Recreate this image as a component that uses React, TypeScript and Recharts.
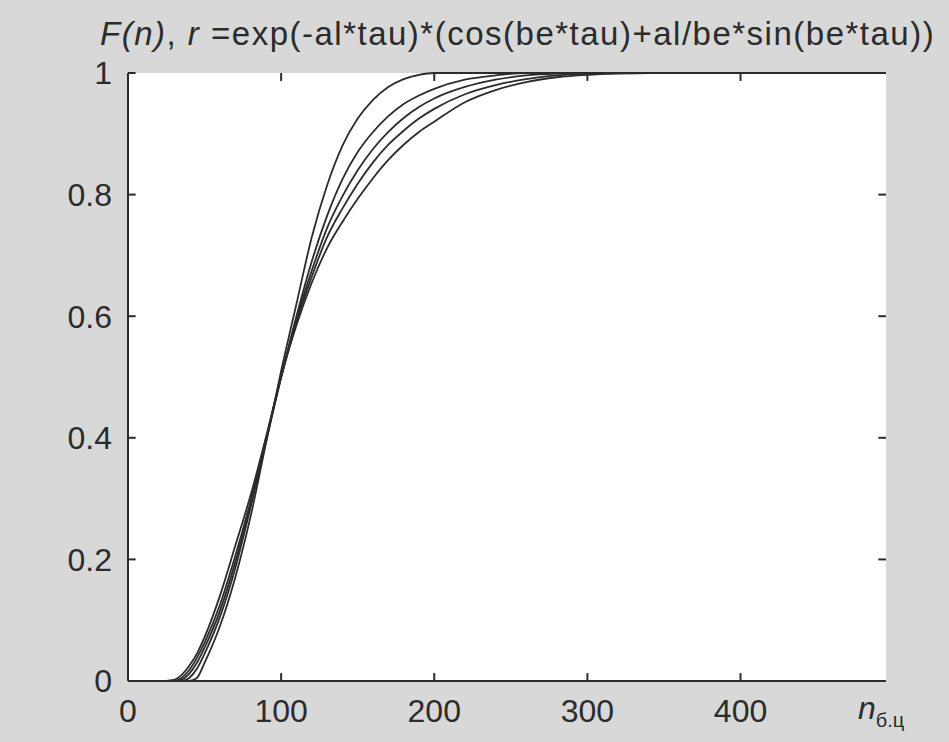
import { LineChart, Line, XAxis, YAxis, ReferenceLine } from 'recharts'

// n values shared by all curves
const nValues = [0, 20, 30, 35, 40, 45, 50, 60, 70, 80, 90, 100, 110, 120, 130, 140, 150, 160, 170, 180, 190, 200, 220, 240, 260, 280, 300, 320, 340, 400, 495]

// F(n) curves (steepest first)
const curveS = [0, 0, 0, 0, 0, 0.005, 0.03, 0.09, 0.17, 0.27, 0.39, 0.51, 0.62, 0.73, 0.815, 0.88, 0.925, 0.956, 0.977, 0.99, 0.997, 1, 1, 1, 1, 1, 1, 1, 1, 1, 1]
const curveB1 = [0, 0, 0, 0, 0.005, 0.02, 0.045, 0.105, 0.185, 0.285, 0.392, 0.5, 0.6, 0.69, 0.765, 0.825, 0.87, 0.903, 0.929, 0.949, 0.963, 0.974, 0.989, 0.996, 1, 1, 1, 1, 1, 1, 1]
const curveB2 = [0, 0, 0, 0.002, 0.012, 0.03, 0.055, 0.115, 0.195, 0.29, 0.395, 0.5, 0.595, 0.675, 0.745, 0.797, 0.84, 0.875, 0.903, 0.926, 0.944, 0.958, 0.977, 0.989, 0.996, 0.999, 1, 1, 1, 1, 1]
const curveB3 = [0, 0, 0, 0.005, 0.018, 0.038, 0.063, 0.125, 0.205, 0.295, 0.398, 0.5, 0.59, 0.665, 0.73, 0.777, 0.818, 0.853, 0.882, 0.905, 0.925, 0.941, 0.965, 0.98, 0.99, 0.996, 0.999, 1, 1, 1, 1]
const curveB4 = [0, 0, 0.002, 0.01, 0.025, 0.045, 0.072, 0.14, 0.222, 0.305, 0.4, 0.5, 0.585, 0.655, 0.712, 0.755, 0.793, 0.827, 0.857, 0.882, 0.903, 0.92, 0.952, 0.972, 0.985, 0.993, 0.997, 0.999, 1, 1, 1]

const xTicks = [0, 100, 200, 300, 400]
const yTicks = [0, 0.2, 0.4, 0.6, 0.8, 1]
const xMax = 495

const seriesKeys = ['s', 'b1', 'b2', 'b3', 'b4']

const data = nValues.map((n, i) => ({
  n,
  s: curveS[i],
  b1: curveB1[i],
  b2: curveB2[i],
  b3: curveB3[i],
  b4: curveB4[i],
}))

const ink = '#2b2b2b'
const font = '"Liberation Sans", Arial, sans-serif'
const axisStroke = { stroke: ink, strokeWidth: 2 }
// inward tick length in data units (about 8px)
const xTickLen = 0.013
const yTickLen = 5

const BottomTick = ({ x, y, payload }: any) => (
  <text x={x} y={y} dy="0.71em" textAnchor="middle" fill={ink} fontSize={32} fontFamily={font}>
    {payload.value}
  </text>
)

const LeftTick = ({ x, y, payload }: any) => (
  <text x={x} y={y} dy="0.355em" textAnchor="end" fill={ink} fontSize={32} fontFamily={font}>
    {payload.value}
  </text>
)

export default function App() {
  return (
    <div
      style={{
        position: 'absolute',
        left: 0,
        top: 0,
        width: 949,
        height: 742,
        background: '#d8d8d8',
        fontFamily: font,
        color: ink,
        overflow: 'hidden',
      }}
    >
      {/* white plot area behind the svg */}
      <div style={{ position: 'absolute', left: 128, top: 73, width: 758, height: 608, background: '#fff' }} />

      <div
        style={{
          position: 'absolute',
          left: 100,
          top: 15,
          fontSize: 33,
          whiteSpace: 'nowrap',
          letterSpacing: 1.5,
        }}
      >
        <i>F(n)</i>, <i>r</i> =exp(-al*tau)*(cos(be*tau)+al/be*sin(be*tau))
      </div>

      <div style={{ position: 'absolute', left: 0, top: 0 }}>
        <LineChart
          width={949}
          height={742}
          data={data}
          margin={{ top: 73, right: 63, bottom: 0, left: 0 }}
        >
          <XAxis
            dataKey="n"
            type="number"
            domain={[0, xMax]}
            ticks={xTicks}
            interval={0}
            height={61}
            tickLine={false}
            tickMargin={12}
            axisLine={axisStroke}
            tick={BottomTick}
          />
          <YAxis
            type="number"
            domain={[0, 1]}
            ticks={yTicks}
            interval={0}
            width={128}
            tickLine={false}
            tickMargin={10}
            axisLine={axisStroke}
            tick={LeftTick}
          />
          <XAxis
            xAxisId="top"
            orientation="top"
            dataKey="n"
            type="number"
            domain={[0, xMax]}
            ticks={xTicks}
            height={0}
            tickLine={false}
            tick={false}
            axisLine={axisStroke}
          />
          <YAxis
            yAxisId="right"
            orientation="right"
            type="number"
            domain={[0, 1]}
            ticks={yTicks}
            width={0}
            tickLine={false}
            tick={false}
            axisLine={axisStroke}
          />
          {/* inward tick marks on all four sides */}
          {xTicks.map((t) => (
            <ReferenceLine key={`xb${t}`} segment={[{ x: t, y: 0 }, { x: t, y: xTickLen }]} stroke={ink} strokeWidth={2} />
          ))}
          {xTicks.map((t) => (
            <ReferenceLine key={`xt${t}`} segment={[{ x: t, y: 1 }, { x: t, y: 1 - xTickLen }]} stroke={ink} strokeWidth={2} />
          ))}
          {yTicks.map((t) => (
            <ReferenceLine key={`yl${t}`} segment={[{ x: 0, y: t }, { x: yTickLen, y: t }]} stroke={ink} strokeWidth={2} />
          ))}
          {yTicks.map((t) => (
            <ReferenceLine key={`yr${t}`} segment={[{ x: xMax, y: t }, { x: xMax - yTickLen, y: t }]} stroke={ink} strokeWidth={2} />
          ))}
          {seriesKeys.map((key) => (
            <Line
              key={key}
              type="monotone"
              dataKey={key}
              stroke={ink}
              strokeWidth={1.8}
              dot={false}
              isAnimationActive={false}
            />
          ))}
        </LineChart>
      </div>

      <div
        style={{
          position: 'absolute',
          left: 858,
          top: 690,
          fontSize: 32,
          whiteSpace: 'nowrap',
        }}
      >
        <i>n</i>
        <span style={{ fontSize: 20, verticalAlign: -8 }}>б.ц</span>
      </div>
    </div>
  )
}
